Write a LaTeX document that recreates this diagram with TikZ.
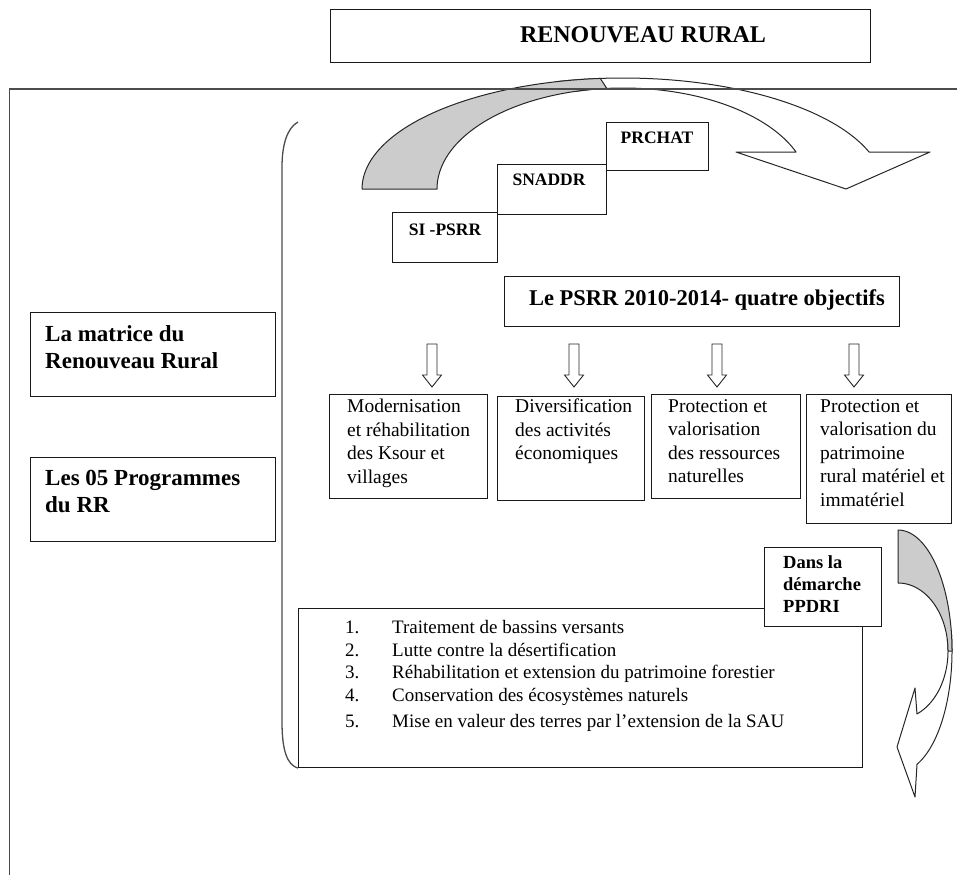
\documentclass[tikz,border=0pt]{standalone}
\usepackage{fontspec}
\setmainfont{Liberation Serif}
\begin{document}
\begin{tikzpicture}[x=1pt,y=-1pt,
  frameline/.style={draw=black!70, line width=1.6pt},
  box/.style={draw=black!90, line width=1.1pt, fill=white, inner sep=0pt, anchor=north west},
  bandline/.style={draw=black!85, line width=1pt, line join=round},
  txt/.style={inner sep=0pt, align=left, anchor=north west},
  titlefont/.style={font=\bfseries\fontsize{24}{28}\selectfont, inner sep=0pt},
  stepfont/.style={font=\bfseries\fontsize{17.5}{21}\selectfont, inner sep=0pt},
  psrrfont/.style={font=\bfseries\fontsize{22.5}{26}\selectfont, inner sep=0pt},
  sidefont/.style={txt, font=\bfseries\fontsize{23}{27}\selectfont},
  objfont/.style={txt, font=\fontsize{19.5}{23.5}\selectfont},
  listfont/.style={txt, font=\fontsize{19}{22.5}\selectfont},
  ppdrifont/.style={txt, font=\bfseries\fontsize{18.5}{22}\selectfont},
  hollowdown/.pic={
    \draw[draw=black!85, line width=0.9pt, fill=white, line join=miter]
      (-5,0) -- (5,0) -- (5,31) -- (9.5,31) -- (0,43) -- (-9.5,31) -- (-5,31) -- cycle;
  }
]
\useasboundingbox (0,0) rectangle (957,875);

% ---------- wide curved arrow over the steps ----------
\path[bandline, fill=white]
  plot[domain=255:340.53, samples=50, variable=\t] ({623+261*cos(\t)},{189+111*sin(\t)})
  -- (930,152) -- (846,189) -- (736,152)
  -- plot[domain=338.51:255, samples=50, variable=\t] ({623+186*cos(\t)},{189+101*sin(\t)})
  -- cycle;
\path[bandline, fill=black!20]
  plot[domain=180:265, samples=50, variable=\t] ({623+261*cos(\t)},{189+111*sin(\t)})
  -- plot[domain=265:180, samples=50, variable=\t] ({623+186*cos(\t)},{189+101*sin(\t)})
  -- cycle;

% ---------- outer frame ----------
\coordinate (frameBL) at (9.5,875);
\coordinate (frameTL) at (9.5,89);
\coordinate (frameTR) at (957,89);
\draw[frameline] (frameBL) -- (frameTL) -- (frameTR);

% ---------- title ----------
\node[box, minimum width=540pt, minimum height=53pt] (title) at (330,9) {};
\node[titlefont] (titletxt) at (643,35) {RENOUVEAU RURAL};

% ---------- steps ----------
\node[box, minimum width=105pt, minimum height=50pt] (sipsrr) at (392,212) {};
\node[stepfont] (sipsrrtxt) at (445,230) {SI -PSRR};
\node[box, minimum width=109pt, minimum height=50pt] (snaddr) at (497,164) {};
\node[stepfont] (snaddrtxt) at (549,180) {SNADDR};
\node[box, minimum width=102pt, minimum height=48pt] (prchat) at (606,122) {};
\node[stepfont] (prchattxt) at (657,138) {PRCHAT};

% ---------- left column ----------
\node[box, minimum width=245pt, minimum height=84pt] (matrice) at (30,312) {};
\node[sidefont] (matricetxt) at ([xshift=15pt,yshift=-13pt]matrice.north west)
  {La matrice du\\Renouveau Rural};
\node[box, minimum width=245pt, minimum height=84pt] (progs) at (30,457) {};
\node[sidefont] (progstxt) at ([xshift=15pt,yshift=-13pt]progs.north west)
  {Les 05 Programmes\\du RR};

% ---------- PSRR objectives ----------
\node[box, minimum width=395pt, minimum height=50pt] (psrr) at (504,276) {};
\node[psrrfont] (psrrtxt) at (707,300) {Le PSRR 2010-2014- quatre objectifs};

\pic (arr1) at (432,344) {hollowdown};
\pic (arr2) at (574,344) {hollowdown};
\pic (arr3) at (717,344) {hollowdown};
\pic (arr4) at (854,344) {hollowdown};

\node[box, minimum width=158pt, minimum height=104pt] (obj1) at (329,394) {};
\node[objfont] (obj1txt) at ([xshift=18pt,yshift=-5pt]obj1.north west)
  {Modernisation\\et réhabilitation\\des Ksour et\\villages};
\node[box, minimum width=147pt, minimum height=104pt] (obj2) at (497,396) {};
\node[objfont] (obj2txt) at ([xshift=18pt,yshift=-3pt]obj2.north west)
  {Diversification\\des activités\\économiques};
\node[box, minimum width=149pt, minimum height=104pt] (obj3) at (651,394) {};
\node[objfont] (obj3txt) at ([xshift=17pt,yshift=-5pt]obj3.north west)
  {Protection et\\valorisation\\des ressources\\naturelles};
\node[box, minimum width=145pt, minimum height=129pt] (obj4) at (806,394) {};
\node[objfont] (obj4txt) at ([xshift=14pt,yshift=-5pt]obj4.north west)
  {Protection et\\valorisation du\\patrimoine\\rural matériel et\\immatériel};

% ---------- PPDRI list ----------
\node[box, minimum width=564pt, minimum height=159pt] (list) at (298,608) {};
\node[listfont] (listitems) at ([xshift=47pt,yshift=-10pt]list.north west)
  {\begin{tabular}{@{}p{47pt}@{}l@{}}
   1. & Traitement de bassins versants\\
   2. & Lutte contre la désertification\\
   3. & Réhabilitation et extension du patrimoine forestier\\
   4. & Conservation des écosystèmes naturels\\[4pt]
   5. & Mise en valeur des terres par l'extension de la SAU
   \end{tabular}};

\node[box, minimum width=117pt, minimum height=79pt] (ppdri) at (764,547) {};
\node[ppdrifont] (ppdritxt) at ([xshift=19pt,yshift=-8pt]ppdri.north west)
  {Dans la\\démarche\\PPDRI};

% ---------- bracket grouping the right-hand part ----------
\coordinate (brtop) at (298,122);
\draw[frameline, line width=1.3pt] (brtop) .. controls (287,128) and (282,145) .. (282,167)
  -- (282,722) .. controls (282,750) and (287,765) .. (list.south west);

% ---------- curved arrow on the right ----------
\path[bandline, fill=white]
  plot[domain=-10:69.4, samples=50, variable=\t] ({898+54*cos(\t)},{651+121*sin(\t)})
  -- (915,797) -- (897,747) -- (915,688)
  -- plot[domain=67.7:-10, samples=50, variable=\t] ({898+50*cos(\t)},{651+68*sin(\t)})
  -- cycle;
\path[bandline, fill=black!20]
  plot[domain=-90:0, samples=50, variable=\t] ({898+54*cos(\t)},{651+121*sin(\t)})
  -- plot[domain=0:-90, samples=50, variable=\t] ({898+50*cos(\t)},{651+68*sin(\t)})
  -- cycle;
\end{tikzpicture}
\end{document}
